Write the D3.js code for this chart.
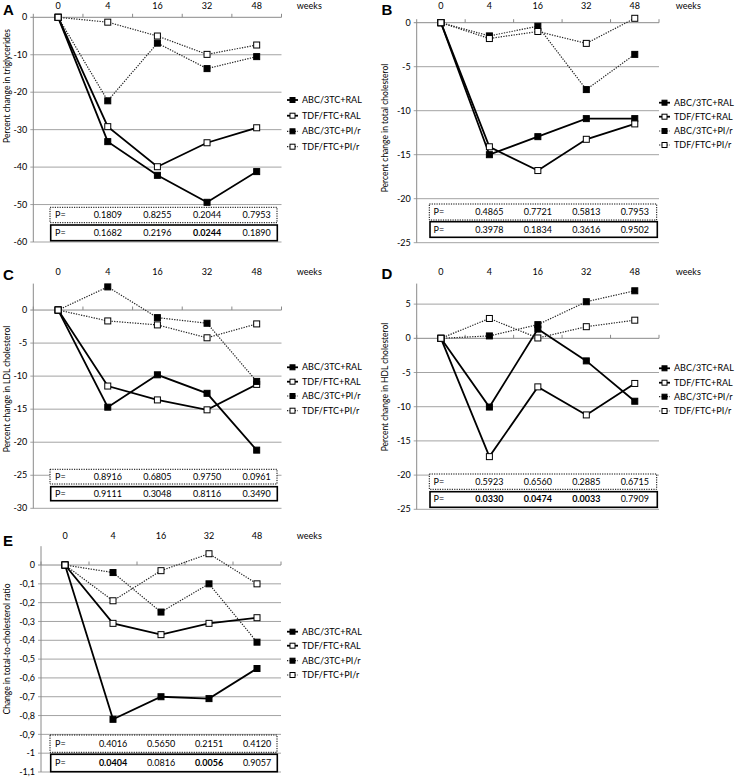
<!DOCTYPE html>
<html><head><meta charset="utf-8">
<script src="https://cdn.jsdelivr.net/npm/d3@7"></script>
<style>body{margin:0;background:#fff} svg{display:block}</style>
</head><body>
<svg id="c" width="741" height="779"></svg>
<script>
// ---------- DATA ----------
const weeks = ["0", "4", "16", "32", "48"];
const seriesNames = ["ABC/3TC+RAL", "TDF/FTC+RAL", "ABC/3TC+PI/r", "TDF/FTC+PI/r"];

// A: triglycerides
const trigAbcRal = [0, -33.2, -42.2, -49.4, -41.2];
const trigTdfRal = [0, -29.2, -39.9, -33.5, -29.5];
const trigAbcPi  = [0, -22.3, -6.9, -13.7, -10.5];
const trigTdfPi  = [0, -1.3, -5.0, -9.9, -7.4];
const trigPiP  = [0.1809, 0.8255, 0.2044, 0.7953];
const trigRalP = [0.1682, 0.2196, 0.0244, 0.1890];
const trigTicks = [0, -10, -20, -30, -40, -50, -60];

// B: total cholesterol
const tcAbcRal = [0, -15.0, -12.95, -10.9, -10.9];
const tcTdfRal = [0, -14.1, -16.8, -13.25, -11.5];
const tcAbcPi  = [0, -1.5, -0.4, -7.6, -3.6];
const tcTdfPi  = [0, -1.8, -1.0, -2.35, 0.5];
const tcPiP  = [0.4865, 0.7721, 0.5813, 0.7953];
const tcRalP = [0.3978, 0.1834, 0.3616, 0.9502];
const tcTicks = [0, -5, -10, -15, -20, -25];

// C: LDL cholesterol
const ldlAbcRal = [0, -14.7, -9.8, -12.6, -21.2];
const ldlTdfRal = [0, -11.5, -13.6, -15.1, -11.25];
const ldlAbcPi  = [0, 3.5, -1.15, -2.0, -10.8];
const ldlTdfPi  = [0, -1.65, -2.25, -4.2, -2.1];
const ldlPiP  = [0.8916, 0.6805, 0.9750, 0.0961];
const ldlRalP = [0.9111, 0.3048, 0.8116, 0.3490];
const ldlTicks = [0, -5, -10, -15, -20, -25, -30];

// D: HDL cholesterol
const hdlAbcRal = [0, -10.05, 1.35, -3.3, -9.2];
const hdlTdfRal = [0, -17.3, -7.1, -11.2, -6.6];
const hdlAbcPi  = [0, 0.35, 2.0, 5.35, 6.95];
const hdlTdfPi  = [0, 2.9, 0.05, 1.7, 2.65];
const hdlPiP  = [0.5923, 0.6560, 0.2885, 0.6715];
const hdlRalP = [0.0330, 0.0474, 0.0033, 0.7909];
const hdlTicks = [5, 0, -5, -10, -15, -20, -25];

// E: total-to-cholesterol ratio
const ratioAbcRal = [0, -0.82, -0.70, -0.71, -0.55];
const ratioTdfRal = [0, -0.31, -0.37, -0.31, -0.28];
const ratioAbcPi  = [0, -0.04, -0.25, -0.10, -0.41];
const ratioTdfPi  = [0, -0.19, -0.03, 0.06, -0.10];
const ratioPiP  = [0.4016, 0.5650, 0.2151, 0.4120];
const ratioRalP = [0.0404, 0.0816, 0.0056, 0.9057];
const ratioTicks = [0, -0.1, -0.2, -0.3, -0.4, -0.5, -0.6, -0.7, -0.8, -0.9, -1, -1.1];

// ---------- LAYOUT ----------
const panels = [
  {letter: "A", title: "Percent change in triglycerides",
   series: [trigAbcRal, trigTdfRal, trigAbcPi, trigTdfPi], pPi: trigPiP, pRal: trigRalP,
   ticks: trigTicks, domain: [-60, 0], x0: 33.3, x1: 281.5, yTop: 17.3, yBot: 242,
   catY: 6, letterX: 3, letterY: 15, titleX: 7, titleY: 86, weeksX: 309.3,
   box1: [50, 207.3, 277, 222.7], box2: [50.7, 225, 277.3, 240.7], pY: [215, 232.7], pX: 55,
   legX: 287, legY: [100, 115.7, 131.3, 146.7], comma: false},
  {letter: "B", title: "Percent change in total cholesterol",
   series: [tcAbcRal, tcTdfRal, tcAbcPi, tcTdfPi], pPi: tcPiP, pRal: tcRalP,
   ticks: tcTicks, domain: [-25, 0], x0: 416.7, x1: 659, yTop: 22.7, yBot: 242.7,
   catY: 6.3, letterX: 381.5, letterY: 15, titleX: 385, titleY: 128, weeksX: 688.3,
   box1: [429.3, 204, 656.7, 220], box2: [430, 221.7, 657.3, 237.3], pY: [212.3, 230], pX: 433.5,
   legX: 659, legY: [102.7, 116.7, 131, 145], comma: false},
  {letter: "C", title: "Percent change in LDL cholesterol",
   series: [ldlAbcRal, ldlTdfRal, ldlAbcPi, ldlTdfPi], pPi: ldlPiP, pRal: ldlRalP,
   ticks: ldlTicks, domain: [-30, 4], x0: 33.3, x1: 281.5, yTop: 283.6, yBot: 508.3,
   catY: 272, letterX: 3, letterY: 280, titleX: 7, titleY: 389, weeksX: 309.3,
   box1: [50, 469.3, 277, 484], box2: [50.7, 486.7, 277.3, 500.7], pY: [477, 494], pX: 55,
   legX: 287, legY: [367.3, 381.7, 396, 410.7], comma: false},
  {letter: "D", title: "Percent change in HDL cholesterol",
   series: [hdlAbcRal, hdlTdfRal, hdlAbcPi, hdlTdfPi], pPi: hdlPiP, pRal: hdlRalP,
   ticks: hdlTicks, domain: [-25, 8], x0: 416.7, x1: 659, yTop: 283.6, yBot: 509.3,
   catY: 272, letterX: 381.5, letterY: 278.5, titleX: 385, titleY: 387, weeksX: 688.3,
   box1: [429.3, 474, 656.7, 489.3], box2: [430, 491.7, 657.3, 507.3], pY: [481.7, 499.3], pX: 433.5,
   legX: 659, legY: [368.3, 382.7, 396.7, 411], comma: false},
  {letter: "E", title: "Change in total-to-cholesterol ratio",
   series: [ratioAbcRal, ratioTdfRal, ratioAbcPi, ratioTdfPi], pPi: ratioPiP, pRal: ratioRalP,
   ticks: ratioTicks, domain: [-1.1, 0.1], x0: 41, x1: 281, yTop: 546.2, yBot: 772,
   catY: 536, letterX: 3, letterY: 545.5, titleX: 7, titleY: 649, weeksX: 309.3,
   box1: [50, 735, 277, 752.3], box2: [50.7, 754.3, 277.3, 771.7], pY: [743.7, 763], pX: 55,
   legX: 287, legY: [631.7, 645.7, 660.7, 675], comma: true}
];

const FONT = "Lato, 'Open Sans', sans-serif";
const svg = d3.select("#c");
const locDot = d3.formatLocale({decimal: ".", thousands: ",", grouping: [3], currency: ["", ""], minus: "-"});
const locComma = d3.formatLocale({decimal: ",", thousands: ".", grouping: [3], currency: ["", ""], minus: "-"});
const seriesStyle = [
  {fill: "#000", solid: true}, {fill: "#fff", solid: true},
  {fill: "#000", solid: false}, {fill: "#fff", solid: false}
];

function styleLine(sel, solid) {
  if (solid) sel.attr("stroke", "#000").attr("stroke-width", 1.8);
  else sel.attr("stroke", "#222").attr("stroke-width", 1.2).attr("stroke-dasharray", "1.3,1.3");
}

panels.forEach(p => {
  const g = svg.append("g");
  const x = d3.scalePoint().domain(weeks).range([p.x0, p.x1]).padding(0.5);
  const y = d3.scaleLinear().domain(p.domain).range([p.yBot, p.yTop]);
  const fmt = (p.comma ? locComma : locDot).format("");
  const step = x.step();

  // gridlines
  g.selectAll(".grid").data(p.ticks).join("line")
    .attr("x1", p.x0 - 3).attr("x2", p.x1)
    .attr("y1", d => y(d)).attr("y2", d => y(d))
    .attr("stroke", d => d === 0 ? "#8a8a8a" : "#a3a3a3").attr("stroke-width", 1);
  // y axis line
  g.append("line").attr("x1", p.x0).attr("x2", p.x0).attr("y1", p.yTop).attr("y2", p.yBot)
    .attr("stroke", "#8a8a8a");
  // category tick marks on zero line
  const bounds = d3.range(weeks.length + 1).map(i => p.x0 + i * step);
  g.selectAll(".ct").data(bounds).join("line")
    .attr("x1", d => d).attr("x2", d => d)
    .attr("y1", y(0) - 3.5).attr("y2", y(0))
    .attr("stroke", "#8a8a8a");
  // y tick labels
  g.selectAll(".yl").data(p.ticks).join("text")
    .attr("x", p.x0 - 6).attr("y", d => y(d)).attr("dy", "0.35em")
    .attr("text-anchor", "end").attr("font-family", FONT).attr("font-size", 9).attr("fill", "#000")
    .text(d => fmt(d));
  // category labels (top)
  g.selectAll(".xl").data(weeks).join("text")
    .attr("x", d => x(d)).attr("y", p.catY).attr("dy", "0.35em")
    .attr("text-anchor", "middle").attr("font-family", FONT).attr("font-size", 9)
    .text(d => d);
  g.append("text").attr("x", p.weeksX).attr("y", p.catY).attr("dy", "0.35em")
    .attr("text-anchor", "middle").attr("font-family", FONT).attr("font-size", 9).text("weeks");
  // panel letter
  g.append("text").attr("x", p.letterX).attr("y", p.letterY)
    .attr("font-family", "'Liberation Sans', Arial, sans-serif").attr("font-weight", "bold")
    .attr("font-size", 15).text(p.letter);
  // y title
  g.append("text").attr("transform", `translate(${p.titleX},${p.titleY}) rotate(-90)`)
    .attr("dy", "0.35em").attr("text-anchor", "middle")
    .attr("font-family", FONT).attr("font-size", 8.5).text(p.title);

  // series
  const line = d3.line().x((d, i) => x(weeks[i])).y(d => y(d));
  p.series.forEach((vals, si) => {
    const st = seriesStyle[si];
    const path = g.append("path").attr("d", line(vals)).attr("fill", "none");
    styleLine(path, st.solid);
    g.selectAll(".m" + si).data(vals).join("rect")
      .attr("x", (d, i) => x(weeks[i]) - 3).attr("y", d => y(d) - 3)
      .attr("width", 6).attr("height", 6)
      .attr("fill", st.fill).attr("stroke", "#000").attr("stroke-width", 1);
  });

  // P-value boxes
  const [b1x0, b1y0, b1x1, b1y1] = p.box1;
  g.append("rect").attr("x", b1x0).attr("y", b1y0).attr("width", b1x1 - b1x0).attr("height", b1y1 - b1y0)
    .attr("fill", "#fff").attr("stroke", "#000").attr("stroke-width", 1).attr("stroke-dasharray", "1.2,1.2");
  const [b2x0, b2y0, b2x1, b2y1] = p.box2;
  g.append("rect").attr("x", b2x0).attr("y", b2y0).attr("width", b2x1 - b2x0).attr("height", b2y1 - b2y0)
    .attr("fill", "#fff").attr("stroke", "#000").attr("stroke-width", 1.6);
  [p.pPi, p.pRal].forEach((vals, ri) => {
    g.append("text").attr("x", p.pX).attr("y", p.pY[ri]).attr("dy", "0.35em")
      .attr("font-family", FONT).attr("font-size", 9).text("P=");
    g.selectAll(".pv" + ri).data(vals).join("text")
      .attr("x", (d, i) => x(weeks[i + 1])).attr("y", p.pY[ri]).attr("dy", "0.35em")
      .attr("text-anchor", "middle").attr("font-family", FONT).attr("font-size", 9)
      .attr("font-weight", d => d < 0.05 ? "bold" : "normal")
      .text(d => d.toFixed(4));
  });

  // legend
  seriesNames.forEach((name, si) => {
    const st = seriesStyle[si];
    const ly = p.legY[si];
    const l = g.append("line").attr("x1", p.legX).attr("x2", p.legX + 11).attr("y1", ly).attr("y2", ly);
    styleLine(l, st.solid);
    g.append("rect").attr("x", p.legX + 3).attr("y", ly - 2.5).attr("width", 5).attr("height", 5)
      .attr("fill", st.fill).attr("stroke", "#000").attr("stroke-width", 1);
    g.append("text").attr("x", p.legX + 15).attr("y", ly).attr("dy", "0.35em")
      .attr("font-family", FONT).attr("font-size", 9).text(name);
  });
});
</script>
</body></html>
